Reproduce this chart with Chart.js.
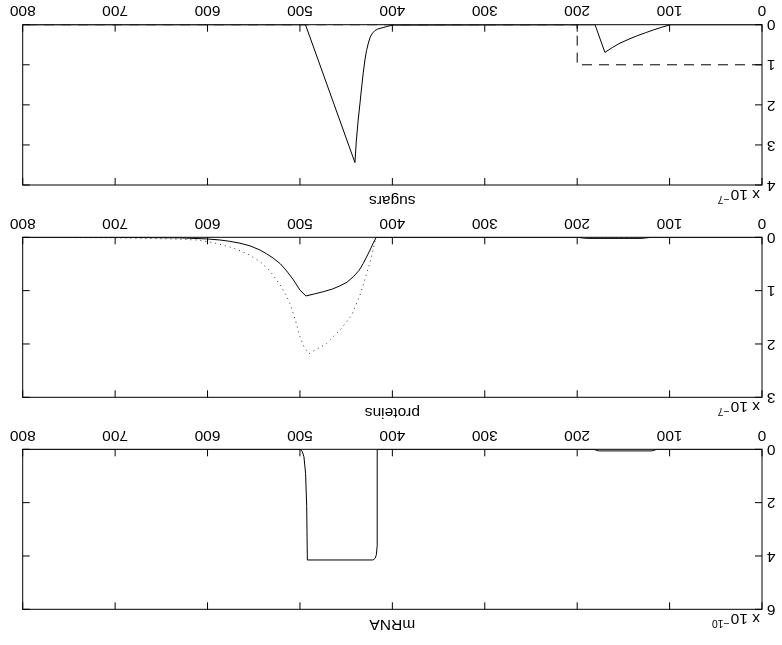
<!DOCTYPE html>
<html>
<head>
<meta charset="utf-8">
<script src="https://cdn.jsdelivr.net/npm/chart.js@4.4.0/dist/chart.umd.min.js"></script>
<style>
    html, body { margin: 0; padding: 0; background: #fff; }
    /* the whole figure is shown upside down */
    #fig { position: relative; width: 782px; height: 645px; transform: rotate(180deg); transform-origin: 50% 50%; }
    #fig canvas { position: absolute; left: 0; }
</style>
</head>
<body>
<div id="fig">
    <canvas id="mrnaChart" width="782" height="225" style="top:0px"></canvas>
    <canvas id="proteinChart" width="782" height="212" style="top:225px"></canvas>
    <canvas id="sugarChart" width="782" height="208" style="top:437px"></canvas>
</div>
<script>
// time axis, shared by all three panels
const xTickValues = [0, 100, 200, 300, 400, 500, 600, 700, 800];

// mRNA, in units of 1e-10
const mrnaTicks = [0, 2, 4, 6];
const mrnaT = [0, 114, 117, 120, 176, 179, 182, 415.9, 416.2, 416.6, 417.3, 418.5, 420, 421.5, 492, 492.7, 493.9, 495.7, 497.5, 500, 800];
const mrnaV = [0, 0, 0.04, 0.06, 0.06, 0.04, 0, 0, 2.0, 3.6, 3.95, 4.08, 4.13, 4.15, 4.15, 2.15, 0.9, 0.28, 0.08, 0, 0];

// proteins, in units of 1e-7
const proteinTicks = [0, 1, 2, 3];
const proteinT = [0, 120, 130, 190, 200, 417.5, 421, 424.2, 428, 431.5, 436, 442.3, 449, 456.7, 465, 474.8, 484, 493.5, 500, 507, 514.4, 521, 528.9, 536, 543, 554, 565, 576, 586.6, 601, 630, 700, 800];
const proteinV = [0, 0, 0.02, 0.02, 0, 0, 0.12, 0.24, 0.37, 0.49, 0.62, 0.74, 0.84, 0.91, 0.97, 1.02, 1.06, 1.10, 0.99, 0.80, 0.63, 0.5, 0.39, 0.31, 0.24, 0.16, 0.11, 0.075, 0.05, 0.03, 0.01, 0, 0];
const protein2T = [0, 418, 422.4, 427.8, 435, 444, 456.7, 471, 482, 490, 495, 500, 505, 510, 515, 521.6, 532.5, 543, 557.7, 575.8, 593.8, 611.8, 640, 700, 800];
const protein2V = [0, 0, 0.36, 0.68, 1.08, 1.46, 1.74, 1.99, 2.1, 2.18, 2.08, 1.86, 1.55, 1.28, 1.08, 0.89, 0.63, 0.46, 0.3, 0.18, 0.1, 0.05, 0.03, 0.01, 0];

// sugars, in units of 1e-7
const sugarTicks = [0, 1, 2, 3, 4];
const sugarT = [0, 99, 108, 117.6, 126, 135.6, 145, 153.7, 162, 170, 180.7, 400, 405, 410, 416, 419, 421.5, 424, 426, 428, 429.7, 431.5, 433.2, 435, 437, 439, 440.5, 494, 800];
const sugarV = [0, 0, 0.06, 0.13, 0.2, 0.28, 0.37, 0.46, 0.57, 0.69, 0, 0.01, 0.04, 0.07, 0.11, 0.15, 0.21, 0.31, 0.46, 0.65, 0.88, 1.2, 1.55, 1.95, 2.38, 2.9, 3.44, 0, 0];
const feedT = [0, 200, 200, 800];
const feedV = [1, 1, 0, 0];

const FONT = '"Liberation Sans", Arial, sans-serif';
const FSIZE = 15.5;
const TICK = 7;

function pts(xs, ys) {
    return xs.map((x, i) => ({ x: x, y: ys[i] }));
}

// box, inward ticks on all four sides, title and exponent label (MATLAB look)
const framePlugin = {
    id: 'frame',
    afterDraw(chart, args, opts) {
        const { ctx, chartArea: a } = chart;
        const x = chart.scales.x, y = chart.scales.y;
        ctx.save();
        ctx.strokeStyle = '#000';
        ctx.lineWidth = 1;
        ctx.strokeRect(a.left, a.top, a.right - a.left, a.bottom - a.top);
        ctx.beginPath();
        x.ticks.forEach(t => {
            const px = x.getPixelForValue(t.value);
            ctx.moveTo(px, a.bottom); ctx.lineTo(px, a.bottom - TICK);
            ctx.moveTo(px, a.top); ctx.lineTo(px, a.top + TICK);
        });
        y.ticks.forEach(t => {
            const py = y.getPixelForValue(t.value);
            ctx.moveTo(a.left, py); ctx.lineTo(a.left + TICK, py);
            ctx.moveTo(a.right, py); ctx.lineTo(a.right - TICK, py);
        });
        ctx.stroke();

        ctx.fillStyle = '#000';
        ctx.font = FSIZE + 'px ' + FONT;
        ctx.textAlign = 'center';
        ctx.textBaseline = 'alphabetic';
        ctx.fillText(opts.title, (a.left + a.right) / 2, a.top - 11);

        ctx.textAlign = 'left';
        ctx.fillText('x 10', a.left + 2, a.top - 5);
        const w = ctx.measureText('x 10').width;
        ctx.font = '10.5px ' + FONT;
        ctx.fillText(opts.exp, a.left + 2 + w + 1, a.top - 11);
        ctx.restore();
    }
};

function makePanel(id, datasets, yTicks, title, exp, topPad, axisH) {
    return new Chart(document.getElementById(id).getContext('2d'), {
        type: 'line',
        data: { datasets: datasets },
        options: {
            responsive: false,
            animation: false,
            layout: { padding: { top: topPad, right: 22.7, left: 0, bottom: 0 } },
            elements: { point: { radius: 0 }, line: { tension: 0 } },
            plugins: {
                legend: { display: false },
                tooltip: { enabled: false },
                frame: { title: title, exp: exp }
            },
            scales: {
                x: {
                    type: 'linear',
                    min: 0,
                    max: 800,
                    grid: { display: false, drawTicks: false },
                    border: { display: false },
                    ticks: { color: '#000', font: { family: FONT, size: FSIZE }, padding: 5, maxRotation: 0 },
                    afterBuildTicks: s => { s.ticks = xTickValues.map(v => ({ value: v })); },
                    afterFit: s => { s.height = axisH; }
                },
                y: {
                    min: yTicks[0],
                    max: yTicks[yTicks.length - 1],
                    grid: { display: false, drawTicks: false },
                    border: { display: false },
                    ticks: { color: '#000', font: { family: FONT, size: FSIZE }, padding: 5 },
                    afterBuildTicks: s => { s.ticks = yTicks.map(v => ({ value: v })); },
                    afterFit: s => { s.width = 20; }
                }
            }
        },
        plugins: [framePlugin]
    });
}

const solid = { borderColor: '#000', borderWidth: 1, fill: false };

makePanel('mrnaChart', [
    Object.assign({ data: pts(mrnaT, mrnaV) }, solid)
], mrnaTicks, 'mRNA', '\u221210', 35.7, 29.3);

makePanel('proteinChart', [
    Object.assign({ data: pts(proteinT, proteinV) }, solid),
    Object.assign({ data: pts(protein2T, protein2V) }, solid, { borderDash: [1, 4], borderColor: '#333' })
], proteinTicks, 'proteins', '\u22127', 22.7, 29.3);

makePanel('sugarChart', [
    Object.assign({ data: pts(sugarT, sugarV) }, solid),
    Object.assign({ data: pts(feedT, feedV) }, solid, { borderDash: [10, 7] })
], sugarTicks, 'sugars', '\u22127', 23, 24.7);
</script>
</body>
</html>
